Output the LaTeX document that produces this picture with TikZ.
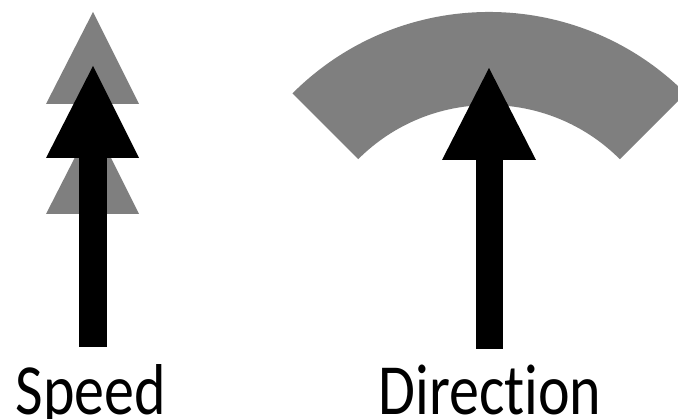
\documentclass[tikz,border=0pt]{standalone}
\usepackage{fontspec}
\setmainfont{Carlito}[Ligatures=NoCommon]
\definecolor{bandgray}{HTML}{7F7F7F}
\begin{document}
\begin{tikzpicture}[x=1pt,y=-1pt,
  graybit/.style={fill=bandgray,draw=none},
  blackbit/.style={fill=black,draw=none},
  lbl/.style={anchor=base,inner sep=0pt,font=\fontsize{60}{60}\selectfont}]
\useasboundingbox (0,0) rectangle (678,419);
\clip (0,0) rectangle (678,419);
% Speed
\fill[graybit] (46,104) -- (139,104) -- (93,12) -- cycle;
\fill[graybit] (46,214) -- (139,214) -- (93,122) -- cycle;
\fill[blackbit] (79,157) rectangle (107,347);
\fill[blackbit] (46,158) -- (139,158) -- (93,66) -- cycle;
\node[lbl] (speed) at (91,415) {\scalebox{1}[1.2]{Speed}};
% Direction
\fill[graybit] (685.6,93.4) arc[start angle=45,end angle=135,radius=278pt]
  -- (358.2,159.2) arc[start angle=135,end angle=45,radius=185pt] -- cycle;
\fill[blackbit] (476,159) rectangle (503,349);
\fill[blackbit] (442,160) -- (536,160) -- (489,68) -- cycle;
\node[lbl] (direction) at (490,415) {\scalebox{1}[1.2]{Direction}};
\end{tikzpicture}
\end{document}
